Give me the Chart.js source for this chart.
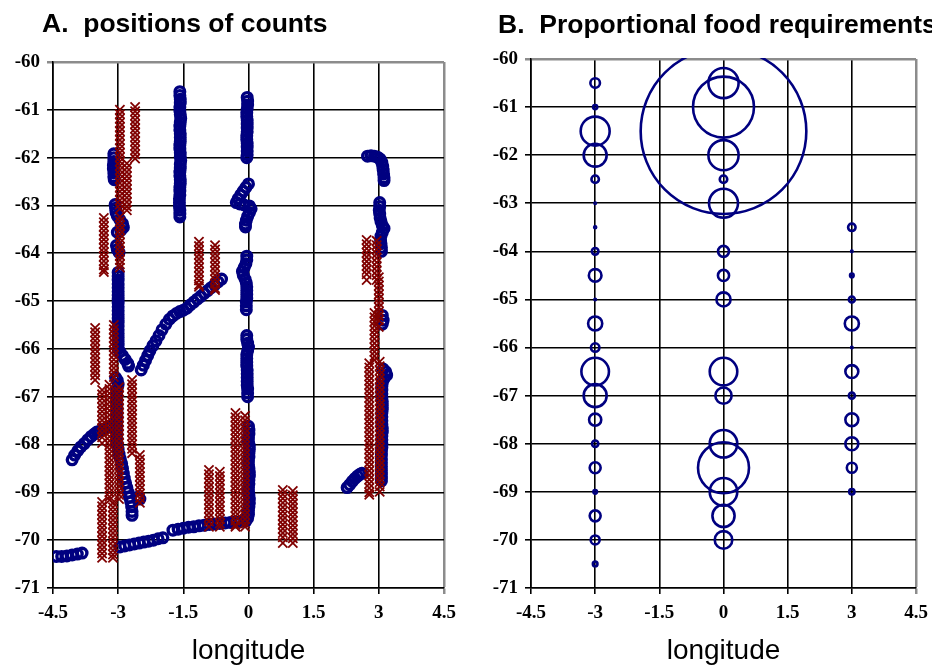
<!DOCTYPE html>
<html>
<head>
<meta charset="utf-8">
<title>Counts and food requirements</title>
<script src="https://cdn.jsdelivr.net/npm/chart.js@4.4.0/dist/chart.umd.min.js"></script>
<style>
  html, body { margin: 0; padding: 0; background: #fff; overflow: hidden; }
  #wrap { position: relative; width: 932px; height: 669px; overflow: hidden; }
  canvas { position: absolute; top: 0; }
  #countsChart { left: 0; }
  #foodChart { left: 466px; }
</style>
</head>
<body>
<div id="wrap">
  <canvas id="countsChart" width="466" height="669"></canvas>
  <canvas id="foodChart" width="500" height="669"></canvas>
</div>
<script>
// axis ticks
const lonTicks = [-4.5, -3, -1.5, 0, 1.5, 3, 4.5];
const latTicks = [-71, -70, -69, -68, -67, -66, -65, -64, -63, -62, -61, -60];

// A. blue tracks (circles), [longitude, latitude]
const blueTrackWest = [
  [-3.1,-61.92],[-3.1,-62.0],[-3.1,-62.08],[-3.11,-62.16],[-3.11,-62.24],[-3.1,-62.32],[-3.1,-62.4],[-3.09,-62.46],
  [-3.07,-62.98],[-3.06,-63.06],[-3.05,-63.14],[-3.02,-63.22],[-2.96,-63.3],[-2.9,-63.38],[-2.88,-63.46],[-2.94,-63.52],[-3.02,-63.56],
  [-3.04,-63.84],[-3.02,-63.92],[-2.98,-63.98],
  [-3.0,-64.4],[-3.0,-64.48],[-3.0,-64.56],[-3.0,-64.64],[-3.0,-64.72],[-3.0,-64.8],[-3.0,-64.88],[-3.0,-64.96],[-3.0,-65.04],
  [-3.0,-65.12],[-3.0,-65.2],[-3.0,-65.28],[-3.0,-65.36],[-3.0,-65.44],[-3.0,-65.52],[-3.0,-65.6],[-3.0,-65.68],[-3.0,-65.76],
  [-3.0,-65.84],[-3.0,-65.92],[-3.0,-66.0],
  [-2.96,-66.06],[-2.9,-66.14],[-2.84,-66.22],[-2.78,-66.3],[-2.76,-66.36],
  [-3.06,-66.6],[-3.02,-66.66],[-3.0,-66.74],[-3.02,-66.82],[-3.03,-66.9],[-3.03,-66.98],[-3.03,-67.06],[-3.03,-67.14],
  [-3.03,-67.22],[-3.03,-67.3],[-3.03,-67.38],[-3.03,-67.46],[-3.03,-67.54],[-3.03,-67.62],[-3.03,-67.7],[-3.03,-67.78],
  [-3.03,-67.86],[-3.03,-67.94],[-3.02,-68.02],[-3.0,-68.1],[-2.98,-68.2],[-2.95,-68.3],[-2.92,-68.4],[-2.9,-68.5],
  [-2.88,-68.6],[-2.86,-68.7],[-2.83,-68.8],[-2.8,-68.9],[-2.77,-69.0],[-2.74,-69.1],[-2.71,-69.2],[-2.69,-69.3],
  [-2.68,-69.4],[-2.68,-69.48],[-2.55,-69.1],[-2.5,-69.14]
];
const blueTrackDiagonals = [
  [-4.06,-68.32],[-4.0,-68.22],[-3.93,-68.13],[-3.86,-68.05],[-3.78,-67.98],[-3.7,-67.9],[-3.62,-67.83],[-3.55,-67.78],
  [-3.49,-67.74],[-3.42,-67.72],[-3.35,-67.68],[-3.27,-67.65],[-3.19,-67.62],
  [-2.47,-66.44],[-2.42,-66.34],[-2.37,-66.24],[-2.32,-66.14],[-2.27,-66.04],[-2.2,-65.93],[-2.13,-65.83],[-2.06,-65.72],
  [-1.99,-65.6],[-1.9,-65.48],[-1.82,-65.38],[-1.74,-65.31],[-1.66,-65.26],[-1.58,-65.22],[-1.5,-65.19],[-1.42,-65.15],
  [-1.34,-65.08],[-1.26,-65.02],[-1.18,-64.96],[-1.1,-64.9],[-1.02,-64.84],[-0.94,-64.78],[-0.86,-64.72],[-0.78,-64.66],
  [-0.7,-64.6],[-0.62,-64.54]
];
const blueTrackSouth = [
  [-4.42,-70.34],[-4.3,-70.34],[-4.18,-70.33],[-4.06,-70.31],[-3.94,-70.29],[-3.83,-70.27],
  [-2.96,-70.14],[-2.85,-70.12],[-2.74,-70.1],[-2.63,-70.08],[-2.52,-70.06],[-2.41,-70.04],[-2.3,-70.02],[-2.19,-70.0],
  [-2.08,-69.97],[-1.97,-69.95],
  [-1.74,-69.79],[-1.62,-69.77],[-1.5,-69.75],[-1.38,-69.73],[-1.26,-69.72],[-1.14,-69.7],[-1.02,-69.69],[-0.9,-69.67],
  [-0.78,-69.66],[-0.66,-69.65],[-0.54,-69.64],[-0.42,-69.63],[-0.3,-69.62],[-0.18,-69.61],[-0.06,-69.6]
];
const blueTrackCentre = [
  [-1.58,-60.62],[-1.58,-60.7],[-1.57,-60.78],[-1.57,-60.86],[-1.58,-60.94],[-1.58,-61.02],[-1.57,-61.1],[-1.56,-61.18],
  [-1.57,-61.26],[-1.58,-61.34],[-1.58,-61.42],[-1.57,-61.5],[-1.57,-61.58],[-1.57,-61.66],[-1.58,-61.74],[-1.58,-61.82],
  [-1.57,-61.9],[-1.57,-61.98],[-1.56,-62.06],[-1.57,-62.14],[-1.57,-62.22],[-1.58,-62.3],[-1.58,-62.38],[-1.57,-62.46],
  [-1.57,-62.54],[-1.58,-62.62],[-1.58,-62.7],[-1.58,-62.78],[-1.59,-62.86],[-1.59,-62.94],[-1.59,-63.02],[-1.58,-63.1],
  [-1.58,-63.18],[-1.58,-63.24],
  [-0.03,-60.74],[-0.02,-60.82],[-0.02,-60.9],[-0.03,-60.98],[-0.04,-61.06],[-0.04,-61.14],[-0.03,-61.22],[-0.03,-61.3],
  [-0.03,-61.38],[-0.03,-61.46],[-0.04,-61.54],[-0.04,-61.62],[-0.03,-61.7],[-0.03,-61.78],[-0.03,-61.86],[-0.03,-61.94],
  [-0.04,-62.0],
  [0.0,-62.55],[-0.06,-62.62],[-0.12,-62.7],[-0.18,-62.78],[-0.24,-62.86],[-0.28,-62.94],[-0.2,-62.97],[-0.1,-62.99],
  [0.02,-63.01],[0.06,-63.07],[0.02,-63.15],[-0.02,-63.23],[-0.05,-63.31],[-0.07,-63.39],[-0.07,-63.45],
  [-0.04,-64.06],[-0.04,-64.14],[-0.06,-64.22],[-0.1,-64.3],[-0.14,-64.38],[-0.12,-64.46],[-0.08,-64.54],[-0.05,-64.62],
  [-0.04,-64.7],[-0.04,-64.78],[-0.04,-64.86],[-0.04,-64.94],[-0.05,-65.02],[-0.05,-65.1],[-0.05,-65.18],
  [-0.04,-65.72],[-0.04,-65.8],[-0.02,-65.88],[0.0,-65.96],[-0.02,-66.04],[-0.04,-66.12],[-0.04,-66.2],[-0.04,-66.28],
  [-0.04,-66.36],[-0.03,-66.44],[-0.03,-66.52],[-0.03,-66.6],[-0.03,-66.68],[-0.03,-66.76],[-0.02,-66.84],[-0.02,-66.92],
  [-0.02,-67.0],
  [0.0,-67.62],[0.01,-67.7],[0.01,-67.78],[0.0,-67.86],[0.0,-67.94],[0.02,-68.02],[0.02,-68.1],[0.01,-68.18],[0.01,-68.26],
  [0.0,-68.34],[0.0,-68.42],[0.01,-68.5],[0.02,-68.58],[0.02,-68.66],[0.01,-68.74],[0.01,-68.82],[0.0,-68.9],[0.0,-68.98],
  [0.01,-69.06],[0.02,-69.14],[0.02,-69.22],[0.01,-69.3],[0.0,-69.38],[0.0,-69.46],[-0.02,-69.54]
];
const blueTrackEast = [
  [2.74,-61.97],[2.82,-61.96],[2.9,-61.97],[2.97,-61.99],[3.03,-62.03],[3.07,-62.1],[3.09,-62.18],[3.1,-62.26],
  [3.11,-62.34],[3.12,-62.42],[3.12,-62.48],
  [3.02,-62.94],[3.02,-63.02],[3.01,-63.1],[3.02,-63.18],[3.03,-63.26],[3.05,-63.34],[3.08,-63.42],[3.12,-63.48],
  [3.08,-63.56],[3.05,-63.64],[3.04,-63.72],[3.05,-63.8],[3.06,-63.88],[3.06,-63.96],
  [3.08,-65.3],[3.1,-65.4],[3.08,-65.48],
  [3.1,-66.42],[3.16,-66.48],[3.18,-66.55],[3.12,-66.62],[3.08,-66.7],[3.07,-66.78],[3.07,-66.86],[3.07,-66.94],
  [3.07,-67.02],[3.08,-67.1],[3.08,-67.18],[3.08,-67.26],[3.07,-67.34],[3.07,-67.42],[3.07,-67.5],[3.07,-67.58],
  [3.08,-67.66],[3.08,-67.74],[3.07,-67.82],[3.07,-67.9],[3.07,-67.98],[3.07,-68.06],[3.06,-68.14],[3.06,-68.22],
  [3.06,-68.3],[3.06,-68.38],[3.06,-68.46],[3.06,-68.54],[3.06,-68.62],[3.06,-68.7],[3.06,-68.76],
  [2.27,-68.9],[2.33,-68.84],[2.39,-68.77],[2.45,-68.71],[2.51,-68.66],[2.57,-68.62],[2.61,-68.6]
];

// A. red counts (crosses): each column is one longitude with its latitudes
const redWest = [
  { lon: -2.96, lat: [-61.0,-61.09,-61.18,-61.27,-61.36,-61.45,-61.54,-61.63,-61.72,-61.81,-61.9,-61.99,-62.08,-62.17,-62.26,-62.35,-62.44,-62.53,-62.62,-62.71,-62.8,-62.89,-62.98,-63.07] },
  { lon: -2.61, lat: [-60.94,-61.03,-61.12,-61.21,-61.3,-61.39,-61.48,-61.57,-61.66,-61.75,-61.84,-61.93,-62.02] },
  { lon: -2.8, lat: [-62.12,-62.21,-62.3,-62.39,-62.48,-62.57,-62.66,-62.75,-62.84,-62.93,-63.02,-63.1] },
  { lon: -3.33, lat: [-63.26,-63.35,-63.44,-63.53,-63.62,-63.71,-63.8,-63.89,-63.98,-64.07,-64.16,-64.25,-64.34,-64.39] },
  { lon: -2.96, lat: [-63.24,-63.33,-63.42,-63.51,-63.6,-63.69,-63.78,-63.87,-63.96,-64.05,-64.14,-64.23,-64.3] },
  { lon: -3.53, lat: [-65.56,-65.65,-65.74,-65.83,-65.92,-66.01,-66.1,-66.19,-66.28,-66.37,-66.46,-66.55,-66.65] },
  { lon: -3.1, lat: [-65.5,-65.59,-65.68,-65.77,-65.86,-65.95,-66.04,-66.13,-66.22,-66.31,-66.4,-66.49,-66.59] },
  { lon: -3.37, lat: [-66.86,-66.95,-67.04,-67.13,-67.22,-67.31,-67.4,-67.49,-67.58,-67.67,-67.76,-67.85,-67.97] },
  { lon: -3.2, lat: [-66.75,-66.84,-66.93,-67.02,-67.11,-67.2,-67.29,-67.38,-67.47,-67.56,-67.65,-67.74,-67.83,-67.92,-68.01,-68.1,-68.19,-68.28,-68.37,-68.46,-68.55,-68.64,-68.73,-68.82,-68.91,-69.0,-69.09,-69.16] },
  { lon: -2.98, lat: [-66.8,-66.89,-66.98,-67.07,-67.16,-67.25,-67.34,-67.43,-67.52,-67.61,-67.7,-67.79,-67.88,-67.97,-68.06,-68.15,-68.24,-68.33,-68.42,-68.51,-68.6,-68.69,-68.78,-68.87,-68.96,-69.05,-69.14] },
  { lon: -2.68, lat: [-66.65,-66.74,-66.83,-66.92,-67.01,-67.1,-67.19,-67.28,-67.37,-67.46,-67.55,-67.64,-67.73,-67.82,-67.91,-68.0,-68.09,-68.18] },
  { lon: -2.5, lat: [-68.22,-68.31,-68.4,-68.49,-68.58,-68.67,-68.76,-68.85,-68.94,-69.03,-69.12,-69.22] },
  { lon: -3.37, lat: [-69.2,-69.29,-69.38,-69.47,-69.56,-69.65,-69.74,-69.83,-69.92,-70.01,-70.1,-70.19,-70.28,-70.37] },
  { lon: -3.12, lat: [-69.22,-69.31,-69.4,-69.49,-69.58,-69.67,-69.76,-69.85,-69.94,-70.03,-70.12,-70.21,-70.3,-70.37] }
];
const redCentre = [
  { lon: -1.14, lat: [-63.76,-63.85,-63.94,-64.03,-64.12,-64.21,-64.3,-64.39,-64.48,-64.57,-64.66,-64.7] },
  { lon: -0.77, lat: [-63.83,-63.92,-64.01,-64.1,-64.19,-64.28,-64.37,-64.46,-64.55,-64.64,-64.73,-64.77] },
  { lon: -0.91, lat: [-68.53,-68.62,-68.71,-68.8,-68.89,-68.98,-69.07,-69.16,-69.25,-69.34,-69.43,-69.52,-69.61,-69.72] },
  { lon: -0.66, lat: [-68.57,-68.66,-68.75,-68.84,-68.93,-69.02,-69.11,-69.2,-69.29,-69.38,-69.47,-69.56,-69.65,-69.72] },
  { lon: -0.3, lat: [-67.34,-67.43,-67.52,-67.61,-67.7,-67.79,-67.88,-67.97,-68.06,-68.15,-68.24,-68.33,-68.42,-68.51,-68.6,-68.69,-68.78,-68.87,-68.96,-69.05,-69.14,-69.23,-69.32,-69.41,-69.5,-69.59,-69.68,-69.72] },
  { lon: -0.08, lat: [-67.4,-67.49,-67.58,-67.67,-67.76,-67.85,-67.94,-68.03,-68.12,-68.21,-68.3,-68.39,-68.48,-68.57,-68.66,-68.75,-68.84,-68.93,-69.02,-69.11,-69.2,-69.29,-69.38,-69.47,-69.56,-69.65,-69.72] },
  { lon: 0.79, lat: [-68.95,-69.04,-69.13,-69.22,-69.31,-69.4,-69.49,-69.58,-69.67,-69.76,-69.85,-69.94,-70.06] },
  { lon: 1.02, lat: [-68.97,-69.06,-69.15,-69.24,-69.33,-69.42,-69.51,-69.6,-69.69,-69.78,-69.87,-69.96,-70.06] }
];
const redEast = [
  { lon: 2.72, lat: [-63.72,-63.81,-63.9,-63.99,-64.08,-64.17,-64.26,-64.35,-64.44,-64.56] },
  { lon: 2.95, lat: [-63.74,-63.83,-63.92,-64.01,-64.1,-64.19,-64.28,-64.37,-64.46,-64.56] },
  { lon: 3.0, lat: [-64.5,-64.59,-64.68,-64.77,-64.86,-64.95,-65.04,-65.13,-65.22,-65.31,-65.4,-65.54] },
  { lon: 2.9, lat: [-65.25,-65.34,-65.43,-65.52,-65.61,-65.7,-65.79,-65.88,-65.97,-66.06,-66.15,-66.23] },
  { lon: 2.78, lat: [-66.3,-66.39,-66.48,-66.57,-66.66,-66.75,-66.84,-66.93,-67.02,-67.11,-67.2,-67.29,-67.38,-67.47,-67.56,-67.65,-67.74,-67.83,-67.92,-68.01,-68.1,-68.19,-68.28,-68.37,-68.46,-68.55,-68.64,-68.73,-68.82,-68.91,-69.0,-69.05] },
  { lon: 3.02, lat: [-66.27,-66.36,-66.45,-66.54,-66.63,-66.72,-66.81,-66.9,-66.99,-67.08,-67.17,-67.26,-67.35,-67.44,-67.53,-67.62,-67.71,-67.8,-67.89,-67.98,-68.07,-68.16,-68.25,-68.34,-68.43,-68.52,-68.61,-68.7,-68.79,-68.88,-68.99] }
];

// B. proportional food requirements at three longitudes
const foodLatWest = [-60.5,-61,-61.5,-62,-62.5,-63,-63.5,-64,-64.5,-65,-65.5,-66,-66.5,-67,-67.5,-68,-68.5,-69,-69.5,-70,-70.5];
const foodWest    = [0.23,0.044,2.1,1.32,0.14,0.006,0.01,0.11,0.4,0.006,0.5,0.18,1.9,1.32,0.37,0.1,0.3,0.032,0.3,0.2,0.053];
const foodLatCentre = [-60.5,-61,-61.5,-62,-62.5,-63,-64,-64.5,-65,-66.5,-67,-68,-68.5,-69,-69.5,-70];
const foodCentre    = [2.28,9.3,68.6,2.28,0.14,2.1,0.3,0.31,0.5,1.9,0.66,1.9,6.5,1.9,1.23,0.77];
const foodLatEast = [-63.5,-64,-64.5,-65,-65.5,-66,-66.5,-67,-67.5,-68,-68.5,-69];
const foodEast    = [0.14,0.006,0.032,0.09,0.5,0.006,0.42,0.09,0.42,0.42,0.25,0.07];
const foodLon = [-3, 0, 3];

const NAVY = "#000080";
const DARK_RED = "#800000";
const tickFont = { family: '"Liberation Serif", "Times New Roman", serif', size: 19, weight: "bold" };

// panel heading drawn on the canvas
const panelTitle = {
  id: "panelTitle",
  afterDraw(chart, args, opts) {
    const c = chart.ctx;
    c.save();
    c.font = 'bold 26.5px "Liberation Sans", Arial, sans-serif';
    c.fillStyle = "#000";
    c.textBaseline = "alphabetic";
    c.fillText(opts.text, opts.x, opts.y);
    c.restore();
  }
};

function makeScales(yWidth) {
  return {
    x: {
      type: "linear",
      min: -4.5,
      max: 4.5,
      afterBuildTicks: (s) => { s.ticks = lonTicks.map((v) => ({ value: v })); },
      afterFit: (s) => { s.height = 81; },
      ticks: { font: tickFont, color: "#000", padding: 8, maxRotation: 0, callback: (v) => String(v) },
      grid: {
        color: (ctx) => (ctx.tick && ctx.tick.value === 4.5 ? "#8c8c8c" : "#000"),
        lineWidth: (ctx) => (ctx.tick && ctx.tick.value === 4.5 ? 2.5 : 1.6),
        tickLength: 6,
      },
      border: { color: "#000", width: 1.6 },
      title: {
        display: true,
        text: "longitude",
        color: "#000",
        font: { family: '"Liberation Sans", Arial, sans-serif', size: 28 },
        padding: { top: 0, bottom: 1 },
      },
    },
    y: {
      type: "linear",
      min: -71,
      max: -60,
      afterBuildTicks: (s) => { s.ticks = latTicks.map((v) => ({ value: v })); },
      afterFit: (s) => { s.width = yWidth; },
      ticks: { font: tickFont, color: "#000", padding: 7, callback: (v) => String(v) },
      grid: {
        color: (ctx) => (ctx.tick && ctx.tick.value === -60 ? "#8c8c8c" : "#000"),
        lineWidth: (ctx) => (ctx.tick && ctx.tick.value === -60 ? 2.5 : 1.6),
        tickLength: 6,
      },
      border: { color: "#000", width: 1.6 },
    },
  };
}

const commonPlugins = { legend: { display: false }, tooltip: { enabled: false } };

// A. positions of counts
const redPoints = [...redWest, ...redCentre, ...redEast].flatMap((col) => col.lat.map((y) => ({ x: col.lon, y })));
const bluePoints = [...blueTrackWest, ...blueTrackDiagonals, ...blueTrackSouth, ...blueTrackCentre, ...blueTrackEast]
  .map(([x, y]) => ({ x, y }));

new Chart(document.getElementById("countsChart"), {
  type: "scatter",
  data: {
    datasets: [
      {
        data: redPoints,
        pointStyle: "crossRot",
        pointRadius: 6.5,
        borderColor: DARK_RED,
        backgroundColor: DARK_RED,
        borderWidth: 1.8,
      },
      {
        data: bluePoints,
        pointStyle: "circle",
        pointRadius: 4.8,
        borderColor: NAVY,
        backgroundColor: "rgba(0,0,0,0)",
        borderWidth: 3.4,
      },
    ],
  },
  options: {
    responsive: false,
    animation: false,
    events: [],
    layout: { autoPadding: false, padding: { top: 62, right: 22, left: 0, bottom: 0 } },
    scales: makeScales(53),
    plugins: { ...commonPlugins, panelTitle: { text: "A.  positions of counts", x: 42, y: 32 } },
  },
  plugins: [panelTitle],
});

// B. proportional food requirements (canvas runs past the window edge, like the clipped heading)
function foodBubbles(lon, lats, amounts) {
  return lats.map((y, i) => ({ x: lon, y, r: 10 * Math.sqrt(amounts[i]) }));
}

new Chart(document.getElementById("foodChart"), {
  type: "bubble",
  data: {
    datasets: [
      {
        data: [
          ...foodBubbles(foodLon[0], foodLatWest, foodWest),
          ...foodBubbles(foodLon[1], foodLatCentre, foodCentre),
          ...foodBubbles(foodLon[2], foodLatEast, foodEast),
        ],
        borderColor: NAVY,
        backgroundColor: "rgba(0,0,0,0)",
        borderWidth: 2.6,
        clip: 1,
      },
    ],
  },
  options: {
    responsive: false,
    animation: false,
    events: [],
    layout: { autoPadding: false, padding: { top: 59, right: 50, left: 0, bottom: 0 } },
    scales: makeScales(65),
    plugins: { ...commonPlugins, panelTitle: { text: "B.  Proportional food requirements", x: 32, y: 33 } },
  },
  plugins: [panelTitle],
});
</script>
</body>
</html>
